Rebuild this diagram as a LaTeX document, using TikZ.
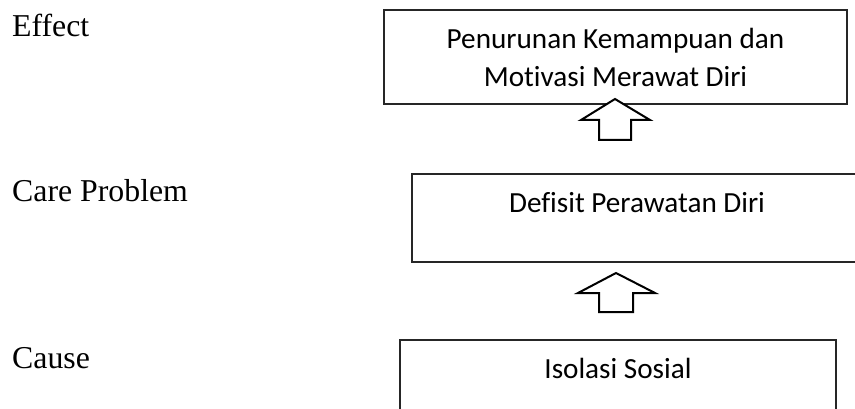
\documentclass[tikz,border=0pt]{standalone}
\usepackage{fontspec}
\setmainfont{Liberation Serif}
\newfontfamily\calib[Ligatures=NoCommon]{Carlito}
\begin{document}
\begin{tikzpicture}[x=1pt,y=-1pt,
  lbl/.style={anchor=base west,inner sep=0pt,font=\fontsize{31.8}{38}\selectfont},
  boxtxt/.style={anchor=base,inner sep=0pt,font=\calib\fontsize{29.2}{38}\selectfont},
  frame/.style={draw=black!85,line width=1.4pt},
  blockarrow/.style={draw=black,line width=2pt,fill=white,line join=miter}]
\clip (0,0) rectangle (855,409);
\useasboundingbox (0,0) rectangle (855,409);
% labels
\node[lbl] (effect) at (12,37) {Effect};
\node[lbl] (care) at (12,202) {Care Problem};
\node[lbl] (cause) at (12,368) {Cause};
% boxes
\draw[frame] (384,10) rectangle (847,104);
\node[boxtxt] (t1) at (615.5,49) {Penurunan Kemampuan dan};
\node[boxtxt] (t2) at (615.5,87) {Motivasi Merawat Diri};
\draw[frame] (412,174) rectangle (862,262);
\node[boxtxt] (m1) at (637,213) {Defisit Perawatan Diri};
\draw[frame] (400,420) -- (400,340) -- (836,340) -- (836,420);
\node[boxtxt] (b1) at (618,378) {Isolasi Sosial};
% block arrows
\draw[blockarrow] (615,99) -- (650,120) -- (631,120) -- (631,140) -- (599,140) -- (599,120) -- (581,120) -- cycle;
\draw[blockarrow] (616,273) -- (655,293) -- (633,293) -- (633,312) -- (599,312) -- (599,293) -- (578,293) -- cycle;
\end{tikzpicture}
\end{document}
